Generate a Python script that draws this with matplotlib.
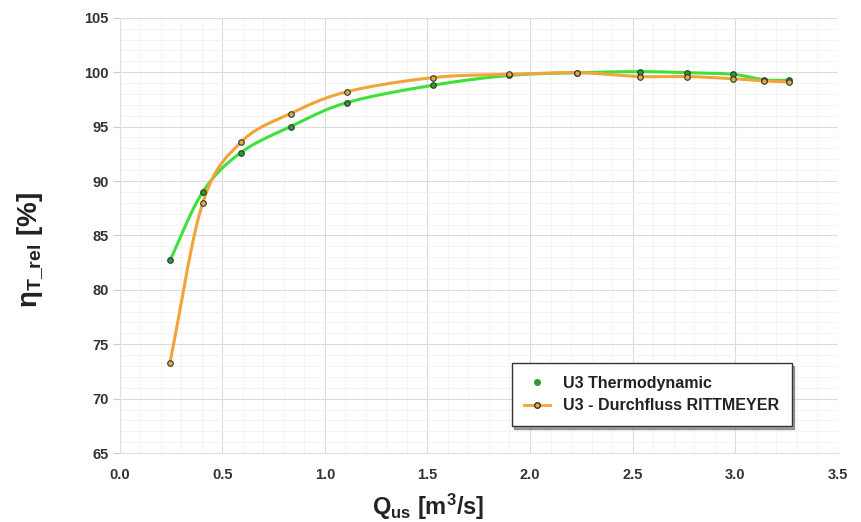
import numpy as np
import matplotlib
matplotlib.use("Agg")
import matplotlib.pyplot as plt
from matplotlib.lines import Line2D

plt.rcParams['font.family'] = ['Liberation Sans', 'DejaVu Sans']
plt.rcParams['mathtext.fontset'] = 'custom'
plt.rcParams['mathtext.rm'] = 'Liberation Sans:bold'
plt.rcParams['mathtext.it'] = 'Liberation Sans:bold'
plt.rcParams['mathtext.bf'] = 'Liberation Sans:bold'

# ========= data =========
q_thermo = [0.245, 0.405, 0.59, 0.833, 1.107, 1.527, 1.90, 2.23, 2.537, 2.767, 2.99, 3.14, 3.26]
eta_thermo = [82.7, 89.0, 92.6, 95.0, 97.2, 98.8, 99.7, 99.95, 100.05, 99.95, 99.8, 99.3, 99.25]

q_ritt = [0.245, 0.405, 0.593, 0.833, 1.107, 1.527, 1.90, 2.23, 2.537, 2.767, 2.99, 3.14, 3.26]
eta_ritt = [73.3, 88.0, 93.6, 96.2, 98.2, 99.5, 99.8, 99.95, 99.6, 99.6, 99.4, 99.2, 99.1]

LABEL_THERMO = "U3 Thermodynamic"
LABEL_RITT = "U3 - Durchfluss RITTMEYER"
# ============================================


def smooth(x, y, n=30, t=0.5):
    # catmull-rom style smoothing, like excel "smoothed line"
    x = np.asarray(x, float)
    y = np.asarray(y, float)
    px = np.concatenate([[2 * x[0] - x[1]], x, [2 * x[-1] - x[-2]]])
    py = np.concatenate([[2 * y[0] - y[1]], y, [2 * y[-1] - y[-2]]])
    xs, ys = [], []
    s = np.linspace(0, 1, n)
    h00 = 2 * s**3 - 3 * s**2 + 1
    h10 = s**3 - 2 * s**2 + s
    h01 = -2 * s**3 + 3 * s**2
    h11 = s**3 - s**2
    for i in range(1, len(px) - 2):
        p0, p1, p2, p3 = [np.array([px[k], py[k]]) for k in (i - 1, i, i + 1, i + 2)]
        m1 = t * (p2 - p0)
        m2 = t * (p3 - p1)
        pts = (np.outer(h00, p1) + np.outer(h10, m1)
               + np.outer(h01, p2) + np.outer(h11, m2))
        xs.append(pts[:, 0])
        ys.append(pts[:, 1])
    return np.concatenate(xs), np.concatenate(ys)


fig = plt.figure(figsize=(8.61, 5.22), dpi=100)
ax = fig.add_axes([0.139, 0.132, 0.834, 0.834])

green = "#3ee03a"
orange = "#f2a33a"

sx, sy = smooth(q_thermo, eta_thermo)
ax.plot(sx, sy, color=green, lw=2.2, zorder=3)
sx, sy = smooth(q_ritt, eta_ritt)
ax.plot(sx, sy, color=orange, lw=2.2, zorder=4)

ax.plot(q_thermo, eta_thermo, ls="none", marker="o", ms=4, mfc="#2f9a2f",
        mec="#333333", mew=0.8, zorder=5)
ax.plot(q_ritt, eta_ritt, ls="none", marker="o", ms=4, mfc="#d8b040",
        mec="#333333", mew=0.8, zorder=6)

ax.set_xlim(0, 3.5)
ax.set_ylim(65, 105)
ax.set_xticks(np.arange(0, 3.51, 0.5))
ax.set_yticks(np.arange(65, 105.1, 5))
ax.set_xticks(np.arange(0, 3.51, 0.1), minor=True)
ax.set_yticks(np.arange(65, 105.1, 1), minor=True)
ax.set_xticklabels([f"{v:.1f}" for v in np.arange(0, 3.51, 0.5)])
ax.grid(which="major", color="#dcdcdc", lw=0.8)
ax.grid(which="minor", color="#f3f3f3", lw=0.6)
ax.set_axisbelow(True)

for sp in ("top", "right"):
    ax.spines[sp].set_visible(False)
for sp in ("left", "bottom"):
    ax.spines[sp].set_color("#e0e0e0")

ax.tick_params(which="major", length=5, color="#cccccc", labelsize=10.5,
               labelcolor="#333333")
ax.tick_params(axis="y", pad=3)
ax.tick_params(axis="x", length=0, pad=11)
ax.tick_params(which="minor", length=0)
for lab in ax.get_xticklabels() + ax.get_yticklabels():
    lab.set_fontweight("bold")

ax.set_xlabel(r"Q$_{\mathregular{us}}$ [m$^{\mathregular{3}}$/s]", fontsize=17,
              fontweight="bold", color="#222222")
ax.xaxis.set_label_coords(0.43, -0.089)
ax.set_ylabel(r"$\mathregular{\eta}_{\mathregular{T\_rel}}$ [%]", fontsize=20,
              fontweight="bold", color="#222222")
ax.yaxis.set_label_coords(-0.104, 0.467)

handles = [
    Line2D([], [], ls="none", marker="o", ms=4, mfc="#2f9a2f", mec="#2f9a2f"),
    Line2D([], [], color=orange, lw=2, marker="o", ms=4, mfc="#d8b040", mec="#333333"),
]
leg = ax.legend(handles, [LABEL_THERMO, LABEL_RITT], loc="lower right",
                bbox_to_anchor=(0.947, 0.044), frameon=True, fancybox=False,
                shadow=True, edgecolor="#333333", prop={"weight": "bold", "size": 11.5},
                borderpad=0.8, handlelength=1.6, labelspacing=0.45)
leg.get_frame().set_linewidth(1.0)
for t in leg.get_texts():
    t.set_color("#222222")

fig.savefig("out.png", dpi=100)
